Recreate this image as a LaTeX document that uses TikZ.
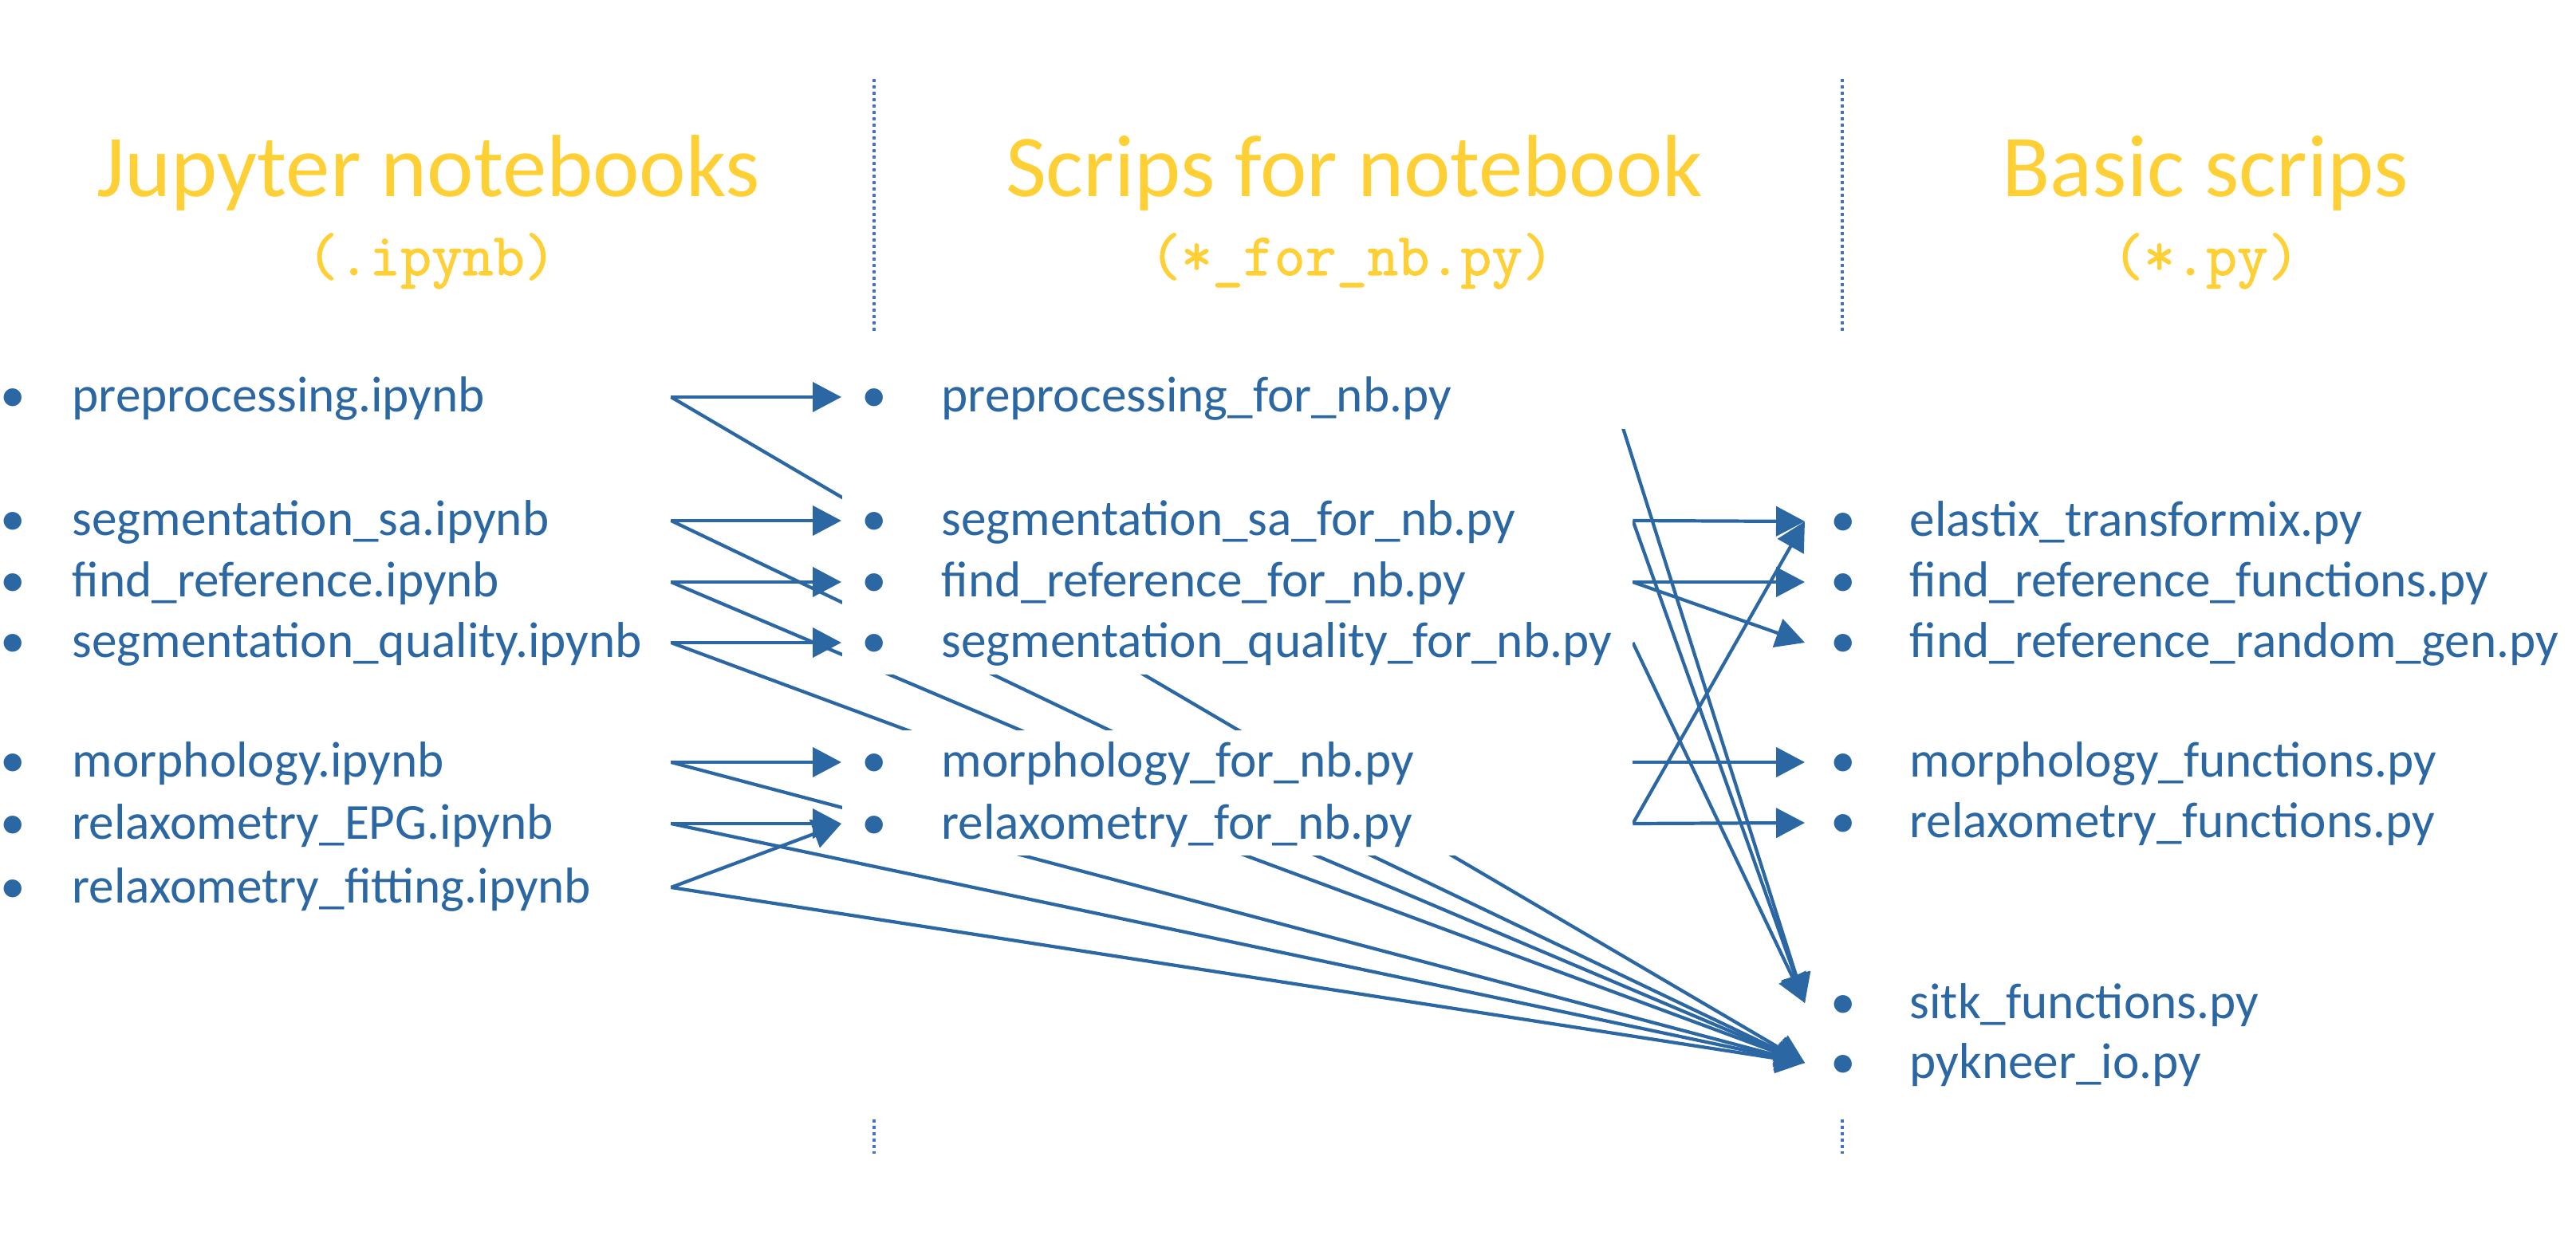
\documentclass[tikz,border=0pt]{standalone}
\usepackage{fontspec}
\setmainfont{Carlito}
\newfontfamily\codefont{Latin Modern Mono}[FakeBold=1.4]
\usetikzlibrary{arrows.meta}
\definecolor{PKBlue}{HTML}{2B67A2}
\definecolor{PKGold}{HTML}{FFD035}
\definecolor{PKDots}{HTML}{4472C4}
\pgfdeclarelayer{back}
\pgfsetlayers{back,main}
% bullet at #1, file name at #2 from the left edge of the node
\newcommand\pkitem[3]{\noindent\rlap{\hspace*{#1}\makebox[0pt]{\textbullet}}\hspace*{#2}#3}
\newcommand\lfile[1]{\pkitem{0.16cm}{0.90cm}{#1}}
\newcommand\mfile[1]{\pkitem{0.41cm}{1.25cm}{#1}}
\newcommand\rfile[1]{\pkitem{0.48cm}{1.31cm}{#1}}

\begin{document}
\begin{tikzpicture}[x=1cm,y=1cm,
  hdr/.style={text=PKGold,font=\fontsize{31.5}{36}\selectfont,anchor=base,inner sep=0},
  ext/.style={text=PKGold,font=\codefont\fontsize{21.5}{24}\selectfont,anchor=base,inner sep=0},
  file/.style={text=PKBlue,font=\fontsize{18}{21}\selectfont,anchor=west,align=left,inner xsep=0,inner ysep=0.02cm,text height=0.57cm,text depth=0.19cm},
  lcol/.style={file,text width=8.40cm},
  mcol/.style={file,text width=9.91cm,fill=white},
  rcol/.style={file,text width=9.60cm},
  link/.style={PKBlue,line width=1.2pt,-{Triangle[length=0.36cm,width=0.37cm]}},
  colsep/.style={PKDots,line width=0.04cm,dash pattern=on 0.04cm off 0.04cm}]
\path[use as bounding box] (0,0) rectangle (32.30,-15.54);

% column titles
\node[hdr] (hnb) at (5.37,-2.47) {Jupyter notebooks};
\node[ext] (xnb) at (5.41,-3.45) {(.ipynb)};
\node[hdr] (hfor) at (16.98,-2.47) {Scrips for notebook};
\node[ext] (xfor) at (16.95,-3.45) {(*\_for\_nb.py)};
\node[hdr] (hbas) at (27.65,-2.47) {Basic scrips};
\node[ext] (xbas) at (27.66,-3.45) {(*.py)};

% dotted column separators
\draw[colsep] (10.96,-0.99) -- (10.96,-4.17);
\draw[colsep] (10.96,-14.04) -- (10.96,-14.47);
\draw[colsep] (23.10,-0.99) -- (23.10,-4.17);
\draw[colsep] (23.10,-14.04) -- (23.10,-14.47);

% notebooks
\node[lcol] (npre) at (0,-4.98) {\lfile{preprocessing.ipynb}};
\node[lcol] (nsa) at (0,-6.53) {\lfile{segmentation\_sa.ipynb}};
\node[lcol] (nfr) at (0,-7.30) {\lfile{find\_reference.ipynb}};
\node[lcol] (nsq) at (0,-8.06) {\lfile{segmentation\_quality.ipynb}};
\node[lcol] (nmo) at (0,-9.56) {\lfile{morphology.ipynb}};
\node[lcol] (nepg) at (0,-10.33) {\lfile{relaxometry\_EPG.ipynb}};
\node[lcol] (nfit) at (0,-11.13) {\lfile{relaxometry\_fitting.ipynb}};

% scripts for notebooks
\node[mcol] (mpre) at (10.55,-4.98) {\mfile{preprocessing\_for\_nb.py}};
\node[mcol] (msa) at (10.55,-6.53) {\mfile{segmentation\_sa\_for\_nb.py}};
\node[mcol] (mfr) at (10.55,-7.30) {\mfile{find\_reference\_for\_nb.py}};
\node[mcol] (msq) at (10.55,-8.06) {\mfile{segmentation\_quality\_for\_nb.py}};
\node[mcol] (mmo) at (10.55,-9.56) {\mfile{morphology\_for\_nb.py}};
\node[mcol] (mrx) at (10.55,-10.33) {\mfile{relaxometry\_for\_nb.py}};

% basic scripts
\node[rcol] (rel) at (22.63,-6.54) {\rfile{elastix\_transformix.py}};
\node[rcol] (rfrf) at (22.63,-7.30) {\rfile{find\_reference\_functions.py}};
\node[rcol] (rfrr) at (22.63,-8.06) {\rfile{find\_reference\_random\_gen.py}};
\node[rcol] (rmof) at (22.63,-9.56) {\rfile{morphology\_functions.py}};
\node[rcol] (rrxf) at (22.63,-10.32) {\rfile{relaxometry\_functions.py}};
\node[rcol] (rsitk) at (22.63,-12.58) {\rfile{sitk\_functions.py}};
\node[rcol] (rio) at (22.63,-13.33) {\rfile{pykneer\_io.py}};

\begin{pgfonlayer}{back}
% notebooks -> scripts for notebooks
\draw[link] (npre.east) -- (mpre.west);
\draw[link] (nsa.east) -- (msa.west);
\draw[link] (nfr.east) -- (mfr.west);
\draw[link] (nsq.east) -- (msq.west);
\draw[link] (nmo.east) -- (mmo.west);
\draw[link] (nepg.east) -- (mrx.west);
\draw[link] (nfit.east) -- (mrx.west);
% notebooks -> pykneer_io
\draw[link] (npre.east) -- (rio.west);
\draw[link] (nsa.east) -- (rio.west);
\draw[link] (nfr.east) -- (rio.west);
\draw[link] (nsq.east) -- (rio.west);
\draw[link] (nmo.east) -- (rio.west);
\draw[link] (nepg.east) -- (rio.west);
\draw[link] (nfit.east) -- (rio.west);
% scripts for notebooks -> basic scripts
\draw[link] ([shift={(-0.19,-0.18)}]mpre.east) -- (rsitk.west);
\draw[link] (msa.east) -- (rel.west);
\draw[link] (msa.east) -- (rsitk.west);
\draw[link] (mfr.east) -- (rfrf.west);
\draw[link] (mfr.east) -- (rfrr.west);
\draw[link] (msq.east) -- (rsitk.west);
\draw[link] (mmo.east) -- (rmof.west);
\draw[link] (mrx.east) -- (rrxf.west);
\draw[link] (mrx.east) -- (rel.west);
\end{pgfonlayer}
\end{tikzpicture}
\end{document}
